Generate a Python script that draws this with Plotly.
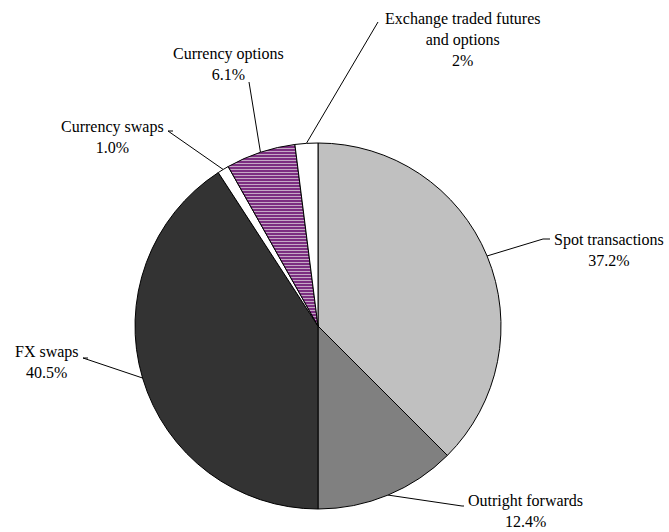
import math
import plotly.graph_objects as go

# Global FX market turnover by instrument
categories = [
    "Spot transactions",
    "Outright forwards",
    "FX swaps",
    "Currency swaps",
    "Currency options",
    "Exchange traded futures<br>and options",
]
shares = [37.2, 12.4, 40.5, 1.0, 6.1, 2]
share_labels = ["37.2%", "12.4%", "40.5%", "1.0%", "6.1%", "2%"]

fills = ["#c0c0c0", "#808080", "#333333", "#ffffff", "#7a2a7a", "#ffffff"]

W, H = 669, 532
CX, CY, R = 318, 326, 183  # pie centre and radius in pixels

# label block centres and leader-line anchor points (pixels, y down)
label_pos = [(609, 250), (525, 511), (47, 362), (112, 137), (228, 64), (462, 39)]
leader_text_end = [
    [(550, 239), (543, 239)],
    [(464, 506), (462, 506)],
    [(88, 358), (83, 358)],
    [(173, 131), (168, 131)],
    [(249, 82)],
    [(378, 22)],
]

fig = go.Figure()

fig.add_trace(go.Pie(
    labels=categories,
    values=shares,
    sort=False,
    direction="clockwise",
    rotation=0,
    textinfo="none",
    showlegend=False,
    marker=dict(
        colors=fills,
        line=dict(color="#000000", width=1),
        pattern=dict(
            shape=["", "", "", "", "-", ""],
            fgcolor="#c4a8c4",
            bgcolor="#74207a",
            size=3,
            solidity=0.4,
        ),
    ),
    domain=dict(
        x=[(CX - R) / W, (CX + R) / W],
        y=[(H - CY - R) / H, (H - CY + R) / H],
    ),
))

# leader lines from slice mid-angles out to each label
total = sum(shares)
cum = 0.0
for i, v in enumerate(shares):
    mid = (cum + v / 2) / total * 2 * math.pi
    cum += v
    ex = CX + R * math.sin(mid)
    ey = CY - R * math.cos(mid)
    pts = leader_text_end[i] + [(ex, ey)]
    fig.add_trace(go.Scatter(
        x=[p[0] for p in pts],
        y=[p[1] for p in pts],
        mode="lines",
        line=dict(color="#000000", width=1),
        hoverinfo="skip",
        showlegend=False,
        xaxis="x", yaxis="y",
    ))

for i, (name, pct) in enumerate(zip(categories, share_labels)):
    lx, ly = label_pos[i]
    fig.add_annotation(
        x=lx, y=ly, xref="x", yref="y",
        text=f"{name}<br>{pct}",
        showarrow=False,
        align="center",
        font=dict(family="Liberation Serif", size=16, color="#000000"),
    )

fig.update_layout(
    width=W, height=H,
    margin=dict(l=0, r=0, t=0, b=0),
    paper_bgcolor="#ffffff",
    plot_bgcolor="rgba(0,0,0,0)",
    xaxis=dict(range=[0, W], visible=False, domain=[0, 1], fixedrange=True),
    yaxis=dict(range=[H, 0], visible=False, domain=[0, 1], fixedrange=True),
)

fig.write_html("out.html")
